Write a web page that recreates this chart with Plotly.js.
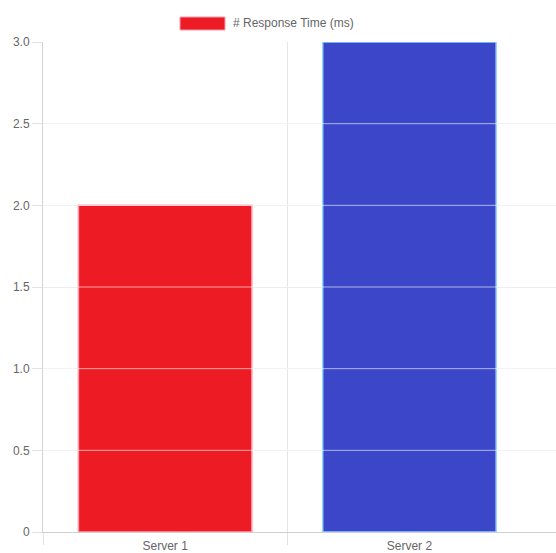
<!DOCTYPE html>
<html>
<head>
<meta charset="utf-8">
<script src="https://cdn.plot.ly/plotly-3.0.1.min.js"></script>
<style>
  html, body { margin: 0; padding: 0; background: #fff; }
  #chart { width: 556px; height: 553px; }
</style>
</head>
<body>
<div id="chart"></div>
<script>
// Response time per server
const servers = ["Server 1", "Server 2"];
const responseTimes = [2, 3];
const seriesName = "# Response Time (ms)";
const barColors = ["#ED1C24", "#3C46C9"];
const barBorders = ["#FF9AAE", "#8FD3FF"];
const yTickVals = [0, 0.5, 1, 1.5, 2, 2.5, 3];
const yTickText = ["0", "0.5", "1.0", "1.5", "2.0", "2.5", "3.0"];

const idx = servers.map((_, i) => i);
// category boundaries between neighbouring servers (grid + tick marks)
const boundaries = [-0.5].concat(servers.slice(1).map((_, i) => i + 0.5));

const trace = {
  type: "bar",
  x: idx,
  y: responseTimes,
  name: seriesName,
  width: 0.71,
  marker: { color: barColors, line: { color: barBorders, width: 1.5 } },
  hoverinfo: "x+y",
  showlegend: false
};

// light lines drawn across the bars at each inner y tick
const overGrid = yTickVals.filter(v => v > 0 && v < 3).map(v => ({
  type: "line", xref: "paper", yref: "y",
  x0: 0, x1: 1, y0: v, y1: v,
  line: { color: "rgba(255,255,255,0.6)", width: 1 },
  layer: "above"
}));

// legend swatch
const legendSwatch = {
  type: "rect", xref: "paper", yref: "paper",
  x0: (180 - 43) / 513, x1: (225 - 43) / 513,
  y0: 1 + (42 - 30) / 490, y1: 1 + (42 - 17) / 490,
  fillcolor: barColors[0], line: { color: barBorders[0], width: 1 }
};

const layout = {
  width: 556, height: 553,
  margin: { l: 43, r: 0, t: 42, b: 21, pad: 0 },
  paper_bgcolor: "#fff", plot_bgcolor: "#fff",
  font: { family: "Liberation Sans, Arial, Helvetica, sans-serif", size: 12, color: "#666" },
  showlegend: false,
  bargap: 0.29,
  xaxis: {
    type: "linear",
    range: [-0.5, 1.6],
    tickmode: "array", tickvals: idx, ticktext: servers,
    ticks: "", showgrid: false, zeroline: false,
    showline: true, linecolor: "#cfcfcf", linewidth: 1,
    ticklabelstandoff: 3,
    minor: {
      tickmode: "array", tickvals: boundaries,
      ticks: "outside", ticklen: 12, tickcolor: "#e3e3e3", tickwidth: 1,
      showgrid: true, gridcolor: "#e5e5e5", gridwidth: 1
    },
    fixedrange: true
  },
  yaxis: {
    range: [0, 3],
    tickmode: "array", tickvals: yTickVals, ticktext: yTickText,
    ticks: "outside", ticklen: 10, tickcolor: "#e3e3e3", tickwidth: 1,
    showgrid: true, gridcolor: "#e5e5e5", gridwidth: 1,
    zeroline: false,
    showline: true, linecolor: "#d4d4d4", linewidth: 1,
    ticklabelstandoff: 0,
    fixedrange: true
  },
  shapes: overGrid.concat([legendSwatch]),
  annotations: [{
    xref: "paper", yref: "paper",
    x: (231 - 43) / 513, y: 1 + (42 - 23) / 490,
    xanchor: "left", yanchor: "middle",
    text: seriesName, showarrow: false,
    font: { size: 12, color: "#666" }
  }]
};

Plotly.newPlot("chart", [trace], layout, { displayModeBar: false, staticPlot: true });
</script>
</body>
</html>
